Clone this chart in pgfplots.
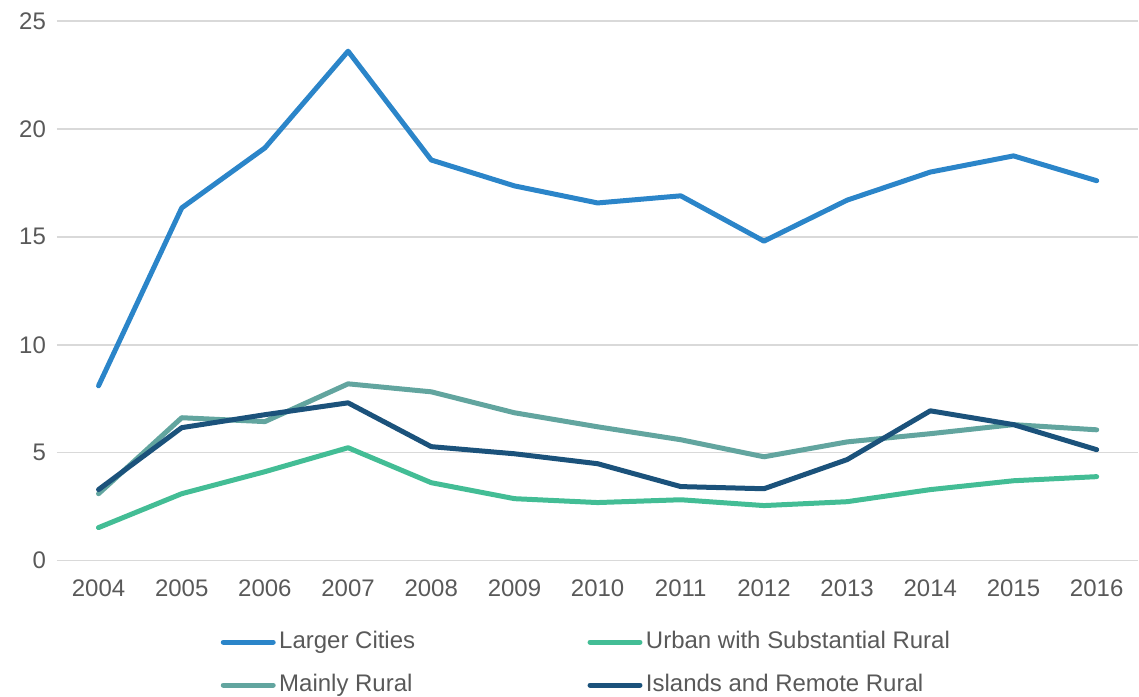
\documentclass[border=0pt]{standalone}
\usepackage{fontspec}
\setmainfont{Liberation Sans}
\usepackage{pgfplots}
\pgfplotsset{compat=1.18}
\definecolor{cLC}{HTML}{2B85C9}
\definecolor{cUR}{HTML}{43BD95}
\definecolor{cMR}{HTML}{62A59F}
\definecolor{cIR}{HTML}{1B527B}
\definecolor{txt}{HTML}{595959}
\definecolor{gridc}{HTML}{D9D9D9}
\pgfplotsset{
  series/.style={line width=2.5pt, line join=round, line cap=round, no markers, #1},
}
\newcommand{\lbl}[1]{\makebox[152.5pt][l]{#1}}
\begin{document}
\begin{tikzpicture}
\begin{axis}[
  name=ax,
  scale only axis, width=541pt, height=270pt,
  xmin=2003.5, xmax=2016.5, ymin=0, ymax=25,
  xtick={2004,2005,...,2016}, ytick={0,5,...,25},
  axis line style={draw=none}, major tick length=0pt,
  ymajorgrids, grid style={gridc, line width=0.75pt},
  font=\fontsize{12}{14}\selectfont, color=txt,
  /pgf/number format/assume math mode=true,
  xticklabel style={/pgf/number format/1000 sep={}, yshift=-6pt},
  yticklabel style={xshift=-2pt},
  legend columns=2,
  legend style={draw=none, fill=none, inner sep=0pt,
    at={(axis description cs:0.1488,-0.129)}, anchor=north west,
    nodes={inner sep=0pt, anchor=west, text height=9pt, text depth=2.5pt, text=txt},
    /tikz/column sep=0.5pt, /tikz/row sep=10pt},
  legend image code/.code={
    \path (0pt,0pt) (27.5pt,0pt);
    \draw[#1, line width=2.5pt, line cap=round] (1.25pt,0pt) -- (26.25pt,0pt);},
]
\addplot[series=cLC] coordinates {
 (2004,8.1)(2005,16.34)(2006,19.12)(2007,23.6)(2008,18.56)(2009,17.36)(2010,16.57)
 (2011,16.9)(2012,14.8)(2013,16.7)(2014,18.0)(2015,18.75)(2016,17.6)};
\addlegendentry{\lbl{Larger Cities}}
\addplot[series=cUR] coordinates {
 (2004,1.53)(2005,3.1)(2006,4.12)(2007,5.23)(2008,3.61)(2009,2.87)(2010,2.69)
 (2011,2.82)(2012,2.55)(2013,2.73)(2014,3.29)(2015,3.7)(2016,3.89)};
\addlegendentry{Urban with Substantial Rural}
\addplot[series=cMR] coordinates {
 (2004,3.1)(2005,6.62)(2006,6.44)(2007,8.19)(2008,7.82)(2009,6.85)(2010,6.2)
 (2011,5.6)(2012,4.81)(2013,5.5)(2014,5.88)(2015,6.3)(2016,6.06)};
\addlegendentry{\lbl{Mainly Rural}}
\addplot[series=cIR] coordinates {
 (2004,3.29)(2005,6.16)(2006,6.76)(2007,7.31)(2008,5.28)(2009,4.95)(2010,4.49)
 (2011,3.43)(2012,3.33)(2013,4.68)(2014,6.94)(2015,6.3)(2016,5.14)};
\addlegendentry{Islands and Remote Rural}
\end{axis}
\path ([xshift=-28.5pt,yshift=-67pt]ax.south west) rectangle ([yshift=10.5pt]ax.north east);
\end{tikzpicture}
\end{document}
